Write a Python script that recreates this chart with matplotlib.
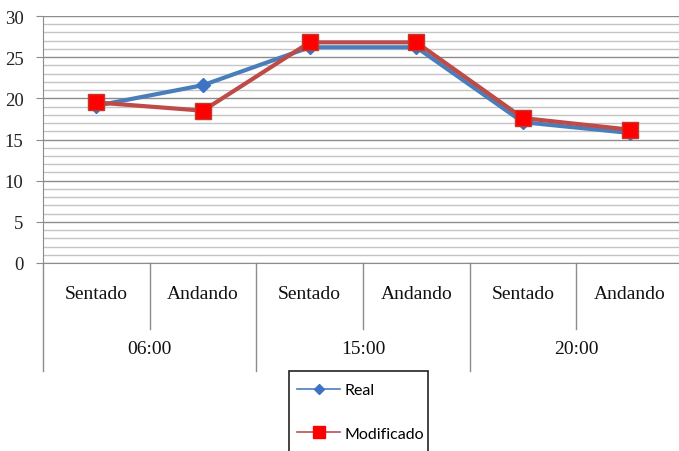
import matplotlib
matplotlib.use("Agg")
import matplotlib.pyplot as plt
from matplotlib.patches import Rectangle
from matplotlib.lines import Line2D
import matplotlib.transforms as mtransforms

sub_labels = ["Sentado", "Andando", "Sentado", "Andando", "Sentado", "Andando"]
group_labels = ["06:00", "15:00", "20:00"]
real = [19.1, 21.6, 26.2, 26.2, 17.1, 15.8]
modificado = [19.5, 18.5, 26.8, 26.8, 17.6, 16.2]

W, H = 679, 452
fig = plt.figure(figsize=(W / 100, H / 100), dpi=100)
x0, x1, ytop, ybot = 43, 683, 17, 264
ax = fig.add_axes([x0 / W, 1 - ybot / H, (x1 - x0) / W, (ybot - ytop) / H])

xs = list(range(len(sub_labels)))
ax.set_xlim(-0.5, len(sub_labels) - 0.5)
ax.set_ylim(0, 30)
ax.set_yticks(range(0, 31, 5))
ax.set_yticks(range(0, 31, 1), minor=True)
ax.grid(True, which="major", axis="y", color="#8c8c8c", lw=1.0, zorder=0)
ax.grid(True, which="minor", axis="y", color="#c4c4c4", lw=1.0, zorder=0)
ax.set_axisbelow(True)
for s in ["top", "right"]:
    ax.spines[s].set_visible(False)
for s in ["left", "bottom"]:
    ax.spines[s].set_color("#8c8c8c")
ax.tick_params(axis="y", which="major", length=5, color="#8c8c8c", pad=9,
               labelsize=13.5, labelcolor="#222222")
ax.tick_params(axis="y", which="minor", length=0)
ax.tick_params(axis="x", length=0, labelbottom=False)
for lab in ax.get_yticklabels():
    lab.set_family("Liberation Serif")

ax.plot(xs, real, color="#4A7EBB", lw=3, marker="D", ms=7,
        mfc="#3D72C4", mec="#3D72C4", zorder=3, label="Real")
ax.plot(xs, modificado, color="#BE4B48", lw=3, marker="s", ms=12,
        mfc="#FF0000", mec="#C0392B", mew=1, zorder=4, label="Modificado")

# category axis
trans = mtransforms.blended_transform_factory(ax.transData, fig.transFigure)
def fy(py):
    return 1 - py / H
for i, lab in enumerate(sub_labels):
    ax.text(i, fy(295), lab, transform=trans, ha="center", va="center",
            fontsize=14, family="Liberation Serif", color="#111111")
for g, lab in enumerate(group_labels):
    ax.text(2 * g + 0.5, fy(350), lab, transform=trans, ha="center", va="center",
            fontsize=14, family="Liberation Serif", color="#111111")
for xb in [0.5, 2.5, 4.5]:
    ax.add_line(Line2D([xb, xb], [fy(ybot), fy(330)], transform=trans,
                       color="#8c8c8c", lw=1, clip_on=False))
for xb in [-0.5, 1.5, 3.5, 5.5]:
    ax.add_line(Line2D([xb, xb], [fy(ybot), fy(372)], transform=trans,
                       color="#8c8c8c", lw=1, clip_on=False))

# legend
fig.patches.append(Rectangle((289 / W, fy(460)), (428 - 289) / W, (460 - 372) / H,
                             transform=fig.transFigure, fill=False,
                             edgecolor="#222222", lw=1.2))
handles = [Line2D([0], [0], color="#4A7EBB", lw=1.2, marker="D", ms=5,
                  mfc="#3D72C4", mec="#3D72C4"),
           Line2D([0], [0], color="#C0504D", lw=1.2, marker="s", ms=8,
                  mfc="#FF0000", mec="#FF0000")]
leg = fig.legend(handles, ["Real", "Modificado"], loc="upper left",
                 bbox_to_anchor=(297 / W, fy(384)), frameon=False,
                 prop={"family": "Lato", "size": 11.5}, handlelength=2.7,
                 handletextpad=0.3, labelspacing=1.85, borderpad=0,
                 borderaxespad=0)

fig.savefig("out.png", dpi=100)
